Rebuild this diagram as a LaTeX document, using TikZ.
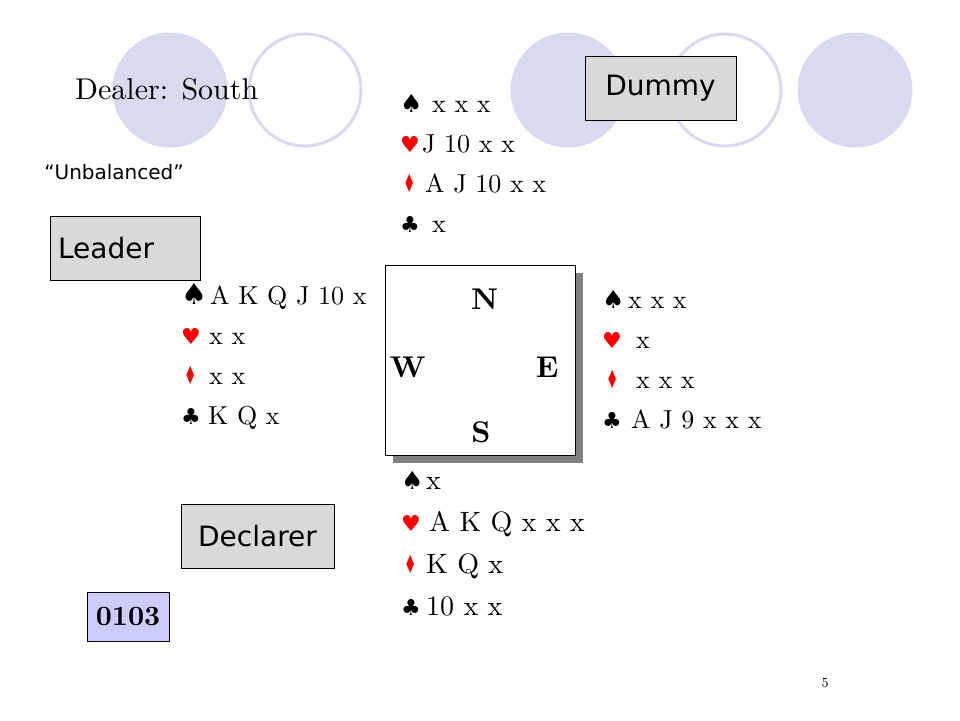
\documentclass[tikz,border=0pt]{standalone}
\usepackage{fontspec}
\setmainfont{lmroman10-regular}[Extension=.otf, BoldFont=lmroman10-bold]
\usepackage{tikz}
\usetikzlibrary{positioning,shadows}
\newfontfamily\symfont{DejaVu Sans}
\newfontfamily\comicfont{DejaVu Sans}
\definecolor{lavender}{RGB}{217,217,239}
\definecolor{boxgray}{RGB}{217,217,217}
\definecolor{idblue}{RGB}{204,204,255}
\newcommand{\suitS}{{\symfont\fontsize{25}{25}\selectfont ♠}}
\newcommand{\suitH}{{\color{red}\symfont\fontsize{22}{22}\selectfont ♥}}
\newcommand{\suitD}{{\color{red}\symfont\fontsize{25}{25}\selectfont\scalebox{0.55}[1]{♦}}}
\newcommand{\suitC}{{\symfont\fontsize{22}{22}\selectfont ♣}}
\newcommand{\holding}[3]{\makebox[#1pt][l]{#2}#3}

\begin{document}
\begin{tikzpicture}[x=1pt,y=-1pt,
  disc/.style={circle, fill=lavender, minimum size=115pt, inner sep=0pt},
  ring/.style={circle, draw=lavender, line width=3pt, fill=white, minimum size=112pt, inner sep=0pt},
  role/.style={draw, fill=boxgray, font=\comicfont\fontsize{28}{30}\selectfont, minimum height=64pt},
  cards/.style={anchor=base west, inner sep=0pt, font=\fontsize{26}{30}\selectfont},
  seat/.style={anchor=base, inner sep=0pt, font=\bfseries\fontsize{30}{30}\selectfont}]
  \useasboundingbox (0,0) rectangle (960,720);

  \node [disc] (c1) at (170,90) {};
  \node [ring] (c2) at (305,90) {};
  \node [disc] (c3) at (568,90) {};
  \node [ring] (c4) at (725,90) {};
  \node [disc] (c5) at (855,90) {};

  \node [anchor=base west, inner sep=0pt, font=\fontsize{30}{30}\selectfont] (dealer) at (75,99) {Dealer: South};
  \node [inner sep=0pt, font=\comicfont\fontsize{20}{20}\selectfont] (unbal) at (114,172) {“Unbalanced”};

  \node [role, minimum width=151pt] (dummy) at (660.5,88.5) {Dummy};
  \node [role, text width=134pt, inner xsep=8pt, align=left] (leader) at (125,248) {Leader};
  \node [role, minimum width=153pt] (declarer) at (257.5,536) {Declarer};
  \node [draw, fill=idblue, minimum width=82pt, minimum height=49pt, font=\bfseries\fontsize{28}{30}\selectfont] (id) at (128,616.5) {0103};

  \node [draw, fill=white, minimum width=190pt, minimum height=190pt,
         drop shadow={shadow xshift=8pt, shadow yshift=-8pt, fill=gray, opacity=1}] (board) at (480,360) {};
  \node [seat] (N) at ([shift={(4.5,45)}]board.north) {N};
  \node [seat] (W) at ([shift={(23,17)}]board.west) {W};
  \node [seat] (E) at ([shift={(-28,17)}]board.east) {E};
  \node [seat] (S) at ([shift={(1,-13)}]board.south) {S};

  \node [cards] (n1) at (400,112) {\holding{32}{\suitS}{x x x}};
  \node [cards, below=40pt of n1.base west, anchor=base west] (n2) {\holding{22}{\suitH}{J 10 x x}};
  \node [cards, below=40pt of n2.base west, anchor=base west] (n3) {\holding{25}{\hspace{3pt}\suitD}{A J 10 x x}};
  \node [cards, below=40pt of n3.base west, anchor=base west] (n4) {\holding{32}{\suitC}{x}};

  \node [cards] (w1) at (181,304) {\holding{29}{{\symfont\fontsize{29}{29}\selectfont ♠}}{A K Q J 10 x}};
  \node [cards, below=40pt of w1.base west, anchor=base west] (w2) {\holding{28}{\suitH}{x x}};
  \node [cards, below=40pt of w2.base west, anchor=base west] (w3) {\holding{28}{\hspace{3pt}\suitD}{x x}};
  \node [cards, below=40pt of w3.base west, anchor=base west] (w4) {\holding{27}{\suitC}{K Q x}};

  \node [cards] (e1) at (602,308) {\holding{26}{\suitS}{x x x}};
  \node [cards, below=40pt of e1.base west, anchor=base west] (e2) {\holding{34}{\suitH}{x}};
  \node [cards, below=40pt of e2.base west, anchor=base west] (e3) {\holding{34}{\hspace{4pt}\suitD}{x x x}};
  \node [cards, below=40pt of e3.base west, anchor=base west] (e4) {\holding{29}{\suitC}{A J 9 x x x}};

  \node [cards, font=\fontsize{28}{30}\selectfont] (s1) at (401,489) {\holding{25}{\suitS}{x}};
  \node [cards, font=\fontsize{28}{30}\selectfont, below=42pt of s1.base west, anchor=base west] (s2) {\holding{28}{\suitH}{A K Q x x x}};
  \node [cards, font=\fontsize{28}{30}\selectfont, below=42pt of s2.base west, anchor=base west] (s3) {\holding{25}{\hspace{3pt}\suitD}{K Q x}};
  \node [cards, font=\fontsize{28}{30}\selectfont, below=42pt of s3.base west, anchor=base west] (s4) {\holding{25}{\suitC}{10 x x}};

  \node [font=\fontsize{14}{14}\selectfont] (page) at (825,683) {5};
\end{tikzpicture}
\end{document}
